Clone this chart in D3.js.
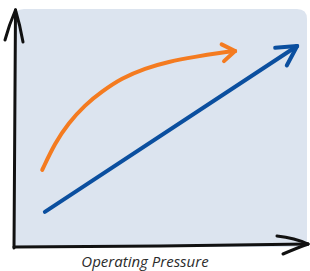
<!DOCTYPE html>
<html><head><meta charset="utf-8">
<script src="https://cdn.jsdelivr.net/npm/d3@7"></script>
<style>html,body{margin:0;padding:0;background:#fff;}svg{display:block;}</style>
</head><body>
<svg id="c" width="310" height="271"></svg>
<script>
// Conceptual sketch data (unitless 0–10 scale)
const xLabel = "Operating Pressure";
const blueX = [1.05, 9.63];
const blueY = [1.48, 8.48];
const orangeX = [0.96, 1.39, 1.85, 2.41, 2.98, 3.66, 4.46, 5.25, 6.16, 7.06, 7.52];
const orangeY = [3.25, 4.38, 5.22, 5.99, 6.55, 7.12, 7.54, 7.82, 8.03, 8.20, 8.27];

const svg = d3.select("#c");
const x = d3.scaleLinear().domain([0, 10]).range([14, 308]);
const y = d3.scaleLinear().domain([0, 10]).range([247, 10]);

// background panel
svg.append("path")
  .attr("d", (() => {
    const l = x(0), r = x(10) - 1, t = y(10) - 1, b = y(0), rad = 10;
    return `M${l},${b}V${t + rad}Q${l},${t} ${l + rad},${t}H${r - rad}Q${r},${t} ${r},${t + rad}V${b}Z`;
  })())
  .attr("fill", "#dce4ef");

function arrowHead(g, tip, from, len, ang, color, w) {
  const a = Math.atan2(from[1] - tip[1], from[0] - tip[0]);
  [ang, -ang].forEach(d => {
    const p = [tip[0] + len * Math.cos(a + d), tip[1] + len * Math.sin(a + d)];
    g.append("path")
      .attr("d", `M${p[0]},${p[1]}L${tip[0]},${tip[1]}`)
      .attr("stroke", color).attr("stroke-width", w)
      .attr("stroke-linecap", "round").attr("fill", "none");
  });
}

const g = svg.append("g");

// blue straight line
const bluePts = blueX.map((v, i) => [x(v), y(blueY[i])]);
g.append("path")
  .attr("d", d3.line()(bluePts))
  .attr("stroke", "#0b4f9f").attr("stroke-width", 4)
  .attr("stroke-linecap", "round").attr("fill", "none");
arrowHead(g, bluePts[1], bluePts[0], 22, 0.5, "#0b4f9f", 4);

// orange curve
const orPts = orangeX.map((v, i) => [x(v), y(orangeY[i])]);
g.append("path")
  .attr("d", d3.line().curve(d3.curveBasis)(orPts))
  .attr("stroke", "#f47b20").attr("stroke-width", 4)
  .attr("stroke-linecap", "round").attr("fill", "none");
arrowHead(g, orPts[orPts.length - 1], orPts[orPts.length - 3], 15, 0.6, "#f47b20", 4);

// axes (hand drawn)
const ax = svg.append("g");
ax.append("path")
  .attr("d", `M${x(0)},${y(0) + 1}Q${x(0) + 0.5},${y(5)} ${x(0) + 1.5},${y(10)}`)
  .attr("stroke", "#111").attr("stroke-width", 3).attr("fill", "none").attr("stroke-linecap", "round");
ax.append("path")
  .attr("d", `M${x(0)},${y(0)}Q${x(5)},${y(0) - 0.5} ${x(10)},${y(0) - 3}`)
  .attr("stroke", "#111").attr("stroke-width", 3).attr("fill", "none").attr("stroke-linecap", "round");
// y arrow
const yt = [x(0) + 1.5, y(10)];
ax.append("path").attr("d", `M5,40Q9,25 ${yt[0]},${yt[1]}`)
  .attr("stroke", "#111").attr("stroke-width", 3).attr("fill", "none").attr("stroke-linecap", "round");
ax.append("path").attr("d", `M23,42Q20,25 ${yt[0]},${yt[1]}`)
  .attr("stroke", "#111").attr("stroke-width", 3).attr("fill", "none").attr("stroke-linecap", "round");
// x arrow
const xt = [x(10), y(0) - 3];
ax.append("path").attr("d", `M277,236Q295,238 ${xt[0]},${xt[1]}`)
  .attr("stroke", "#111").attr("stroke-width", 3).attr("fill", "none").attr("stroke-linecap", "round");
ax.append("path").attr("d", `M283,254Q297,248 ${xt[0]},${xt[1]}`)
  .attr("stroke", "#111").attr("stroke-width", 3).attr("fill", "none").attr("stroke-linecap", "round");

svg.append("text")
  .attr("x", 145).attr("y", 267)
  .attr("text-anchor", "middle")
  .attr("font-family", "'Open Sans', sans-serif")
  .attr("font-style", "italic")
  .attr("font-size", 15)
  .attr("fill", "#2b2b2b")
  .text(xLabel);
</script>
</body></html>
